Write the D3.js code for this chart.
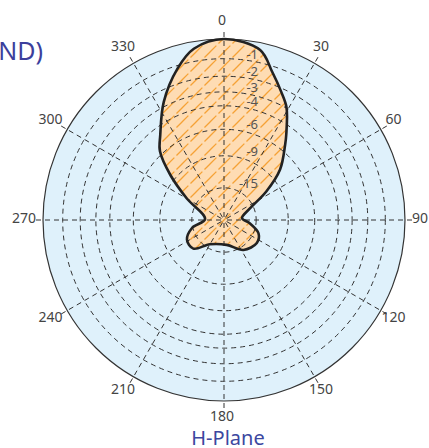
<!DOCTYPE html>
<html>
<head>
<meta charset="utf-8">
<script src="https://cdn.jsdelivr.net/npm/d3@7"></script>
<style>
  body { margin: 0; background: #fff; }
  svg { display: block; }
</style>
</head>
<body>
<div id="chart"></div>
<script>
// radiation pattern, H-Plane (angle in deg, gain in dB)
var angles = [0, 12, 18, 24, 29, 36, 39, 48, 56, 66, 84, 97, 111, 125, 147, 174,
              210, 227, 242, 256, 273, 300, 310, 317, 323, 333, 343, 350];
var gains  = [0, -0.35, -1.3, -2.2, -2.95, -4.65, -5.4, -7.6, -11, -16.1, -20, -16.9, -13.8, -13.1, -14.1, -17.2,
              -16.2, -12.7, -12.7, -14.8, -19.6, -12.5, -8.25, -5.7, -4.65, -2.7, -1.15, -0.35];
var ringLevels = [-1, -2, -3, -4, -6, -9, -15];
var spokeAngles = [0, 30, 60, 90, 120, 150, 180, 210, 240, 270, 300, 330];

var width = 429, height = 448;
var cx = 224, cy = 220, R = 181;

var svg = d3.select('#chart').append('svg')
    .attr('width', width)
    .attr('height', height);

var defs = svg.append('defs');
var pat = defs.append('pattern')
    .attr('id', 'hatch')
    .attr('patternUnits', 'userSpaceOnUse')
    .attr('width', 14)
    .attr('height', 14);
pat.append('rect').attr('width', 14).attr('height', 14).attr('fill', '#fedcb3');
pat.append('path')
    .attr('d', 'M-3.5,3.5 L3.5,-3.5 M0,14 L14,0 M10.5,17.5 L17.5,10.5')
    .attr('stroke', '#f6a235')
    .attr('stroke-width', 1.3)
    .attr('stroke-dasharray', '9 3');

// amplitude scale: dB -> radius
var amp = function (d) { return Math.pow(10, d / 20); };
var r = d3.scaleLinear().domain([0, 1]).range([0, R]);
var toRad = function (a) { return a * Math.PI / 180; };

var g = svg.append('g').attr('transform', 'translate(' + cx + ',' + cy + ')');

g.append('circle').attr('r', R).attr('fill', '#dff1fb');

var pts = angles.map(function (a, i) { return [toRad(a), r(amp(gains[i]))]; });
var line = d3.lineRadial()
    .angle(function (d) { return d[0]; })
    .radius(function (d) { return d[1]; })
    .curve(d3.curveCatmullRomClosed.alpha(0.5));

g.append('path').attr('d', line(pts)).attr('fill', 'url(#hatch)');

// grid rings
g.selectAll('.ring').data(ringLevels).enter().append('circle')
    .attr('class', 'ring')
    .attr('r', function (d) { return r(amp(d)); })
    .attr('fill', 'none')
    .attr('stroke', '#333')
    .attr('stroke-width', 1)
    .attr('stroke-dasharray', '5 4');

// spokes
g.selectAll('.spoke').data(spokeAngles).enter().append('line')
    .attr('class', 'spoke')
    .attr('x1', 0).attr('y1', 0)
    .attr('x2', function (d) { return (R + 7) * Math.sin(toRad(d)); })
    .attr('y2', function (d) { return -(R + 7) * Math.cos(toRad(d)); })
    .attr('stroke', '#333')
    .attr('stroke-width', 1)
    .attr('stroke-dasharray', '5 4')
    .attr('stroke-dashoffset', 6);

g.append('circle').attr('r', R).attr('fill', 'none')
    .attr('stroke', '#333').attr('stroke-width', 1.2);

// ring labels
g.selectAll('.rl').data(ringLevels).enter().append('text')
    .attr('class', 'rl')
    .attr('x', 34)
    .attr('y', function (d) { return -r(amp(d)); })
    .attr('text-anchor', 'end')
    .style('font-family', 'Noto Sans')
    .style('font-size', '13px')
    .style('fill', '#555')
    .text(function (d) { return d; });

g.append('path').attr('d', line(pts))
    .attr('fill', 'none')
    .attr('stroke', '#222')
    .attr('stroke-width', 2.6);

// angle labels
g.selectAll('.al').data(spokeAngles).enter().append('text')
    .attr('class', 'al')
    .attr('x', function (d) { return -2 + 198 * Math.sin(toRad(d)); })
    .attr('y', function (d) { return -3 - 198 * Math.cos(toRad(d)); })
    .attr('text-anchor', 'middle')
    .attr('dominant-baseline', 'central')
    .style('font-family', 'Noto Sans')
    .style('font-size', '14px')
    .style('fill', '#444')
    .text(function (d) { return d; });

svg.append('text')
    .attr('x', 43).attr('y', 60)
    .attr('text-anchor', 'end')
    .style('font-family', 'Noto Sans')
    .style('font-size', '25px')
    .style('fill', '#3c3f9c')
    .text('(5GHz BAND)');

svg.append('text')
    .attr('x', 228).attr('y', 445)
    .attr('text-anchor', 'middle')
    .style('font-family', 'Noto Sans')
    .style('font-size', '20px')
    .style('fill', '#3c47a0')
    .text('H-Plane');
</script>
</body>
</html>
